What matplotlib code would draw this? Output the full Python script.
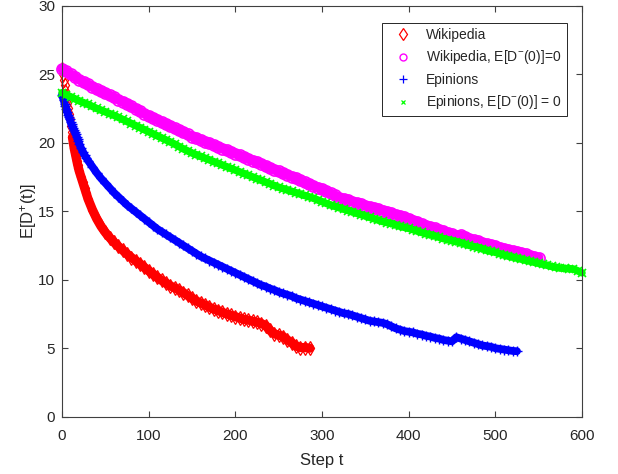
import matplotlib
matplotlib.use("Agg")
import matplotlib.pyplot as plt
from matplotlib.lines import Line2D

plt.rcParams['font.family'] = ['Liberation Sans', 'DejaVu Sans']
plt.rcParams['mathtext.fontset'] = 'custom'
plt.rcParams['mathtext.rm'] = 'Liberation Sans'
plt.rcParams['mathtext.it'] = 'Liberation Sans'

# ---- data ----
wiki_t = [0, 1, 2, 3, 4, 5, 6, 7, 8, 9, 10, 11, 12, 13, 14, 15, 16, 17, 18, 19, 20,
          22, 24, 26, 28, 30, 35, 40, 45, 50, 55, 60, 65, 70, 75, 80, 85, 90, 95, 100,
          105, 110, 115, 120, 125, 130, 135, 140, 145, 150, 155, 160, 165, 170, 175, 180,
          185, 190, 195, 200, 205, 210, 215, 220, 225, 230, 235, 240, 245, 250, 255, 260,
          265, 270, 275, 280, 286]
wiki_v = [25.4, 25.0, 24.6, 24.2, 23.8, 23.4, 22.9, 22.5, 22.1, 21.7, 21.2, 20.8, 20.4,
          20.0, 19.6, 19.3, 19.0, 18.7, 18.4, 18.15, 17.9,
          17.5, 17.1, 16.7, 16.3, 15.9, 15.12, 14.45, 13.9, 13.45, 13.07, 12.73, 12.43,
          12.15, 11.88, 11.62, 11.38, 11.15, 10.9, 10.65, 10.4, 10.17, 9.95, 9.75, 9.55,
          9.4, 9.25, 9.05, 8.85, 8.65, 8.45, 8.3, 8.15, 8.0, 7.85, 7.75, 7.62, 7.5, 7.4,
          7.3, 7.2, 7.1, 7.05, 6.97, 6.9, 6.8, 6.65, 6.3, 6.05, 5.95, 5.85, 5.6, 5.4,
          5.15, 5.05, 5.05, 5.0]

epin_t = [0, 1, 2, 3, 4, 5, 6, 7, 8, 9, 10, 11, 12, 13, 14, 15, 16, 17, 18, 19, 20,
          22, 24, 26, 28, 30] + list(range(35, 526, 5))
epin_v = [23.5, 23.3, 23.1, 22.85, 22.65, 22.45, 22.25, 22.05, 21.85, 21.7, 21.5, 21.35,
          21.2, 21.05, 20.9, 20.75, 20.6, 20.45, 20.3, 20.1, 19.9,
          19.6, 19.35, 19.1, 18.9, 18.7,
          18.25, 17.8, 17.4, 17.05, 16.7, 16.35, 16.05, 15.75, 15.45, 15.2, 14.95, 14.7,
          14.45, 14.2, 13.95, 13.7, 13.5, 13.3, 13.1, 12.9, 12.7, 12.5, 12.3, 12.1, 11.9,
          11.7, 11.55, 11.4, 11.25, 11.1, 10.95, 10.8, 10.65, 10.5, 10.35, 10.2, 10.05,
          9.9, 9.75, 9.6, 9.5, 9.35, 9.25, 9.1, 9.0, 8.9, 8.8, 8.65, 8.55, 8.45, 8.35,
          8.25, 8.15, 8.05, 7.95, 7.85, 7.75, 7.65, 7.55, 7.5, 7.4, 7.3, 7.2, 7.1, 7.0,
          6.95, 6.9, 6.85, 6.75, 6.6, 6.45, 6.35, 6.25, 6.2, 6.15, 6.05, 6.0, 5.9, 5.85,
          5.75, 5.7, 5.6, 5.55, 5.5, 5.8, 5.7, 5.6, 5.5, 5.4, 5.3, 5.2, 5.15, 5.1, 5.0,
          4.95, 4.9, 4.85, 4.8, 4.78]

wiki0_t = list(range(0, 551, 5))
wiki0_v = [25.4, 25.2, 25.0, 24.8, 24.6, 24.42, 24.25, 24.07, 23.9, 23.75, 23.6, 23.45,
           23.3, 23.15, 23.0, 22.82, 22.65, 22.48, 22.3, 22.12, 21.95, 21.8, 21.65, 21.5,
           21.35, 21.2, 21.05, 20.9, 20.75, 20.6, 20.45, 20.32, 20.2, 20.07, 19.95, 19.82,
           19.7, 19.57, 19.45, 19.32, 19.2, 19.07, 18.95, 18.82, 18.7, 18.57, 18.45, 18.3,
           18.15, 18.02, 17.9, 17.77, 17.65, 17.52, 17.4, 17.25, 17.1, 16.97, 16.85, 16.72,
           16.6, 16.45, 16.3, 16.15, 16.0, 15.9, 15.8, 15.7, 15.6, 15.5, 15.4, 15.32,
           15.25, 15.15, 15.05, 14.95, 14.85, 14.75, 14.65, 14.55, 14.45, 14.32, 14.2,
           14.07, 13.95, 13.85, 13.75, 13.65, 13.55, 13.42, 13.3, 13.2, 13.25, 13.15,
           12.95, 12.88, 12.8, 12.7, 12.6, 12.52, 12.45, 12.35, 12.25, 12.18, 12.1, 12.02,
           11.95, 11.85, 11.75, 11.65, 11.6]

epin0_t = list(range(0, 601, 5))
epin0_v = [23.65, 23.5, 23.35, 23.2, 23.05, 22.92, 22.8, 22.65, 22.5, 22.38, 22.25, 22.12,
           22.0, 21.85, 21.7, 21.55, 21.4, 21.25, 21.1, 20.95, 20.8, 20.65, 20.5, 20.35,
           20.2, 20.05, 19.9, 19.72, 19.55, 19.4, 19.25, 19.12, 19.0, 18.87, 18.75, 18.62,
           18.5, 18.37, 18.25, 18.12, 18.0, 17.87, 17.75, 17.62, 17.5, 17.37, 17.25, 17.12,
           17.0, 16.87, 16.75, 16.65, 16.55, 16.45, 16.35, 16.25, 16.15, 16.05, 15.95,
           15.82, 15.7, 15.57, 15.45, 15.35, 15.25, 15.15, 15.05, 14.95, 14.85, 14.75,
           14.65, 14.55, 14.45, 14.35, 14.25, 14.17, 14.1, 14.0, 13.9, 13.82, 13.75, 13.65,
           13.55, 13.45, 13.35, 13.27, 13.2, 13.1, 13.0, 12.92, 12.85, 12.77, 12.7, 12.6,
           12.5, 12.42, 12.35, 12.25, 12.15, 12.07, 12.0, 11.9, 11.8, 11.72, 11.65, 11.57,
           11.5, 11.42, 11.35, 11.27, 11.2, 11.12, 11.05, 10.97, 10.9, 10.85, 10.82, 10.8,
           10.78, 10.65, 10.5]

labels = ['Wikipedia', r'Wikipedia, E[D$^{-}$(0)]=0', 'Epinions',
          r'Epinions, E[D$^{-}$(0)] = 0']
x_ticks = [0, 100, 200, 300, 400, 500, 600]
y_ticks = [0, 5, 10, 15, 20, 25, 30]

RED, MAG, BLUE, GREEN = '#ff0000', '#ff00ff', '#0000ff', '#00ff00'

# ---- plot ----
fig = plt.figure(figsize=(6.18, 4.74), dpi=100)
ax = fig.add_axes([62 / 618, 57.3 / 474, 520 / 618, 411 / 474])

# Wikipedia (open diamonds; dense band after the steep start)
ax.plot(wiki_t[12:], wiki_v[12:], color=RED, lw=6.6, solid_capstyle='round',
        solid_joinstyle='round', clip_on=False, zorder=2)
ax.plot(wiki_t, wiki_v, linestyle='none', marker='d', markersize=7.5,
        markerfacecolor='none', markeredgecolor=RED, markeredgewidth=0.9,
        clip_on=False, zorder=2)
# Wikipedia, E[D-(0)]=0 (open circles)
ax.plot(wiki0_t, wiki0_v, color=MAG, lw=7.0, solid_capstyle='round',
        clip_on=False, zorder=3)
ax.plot(wiki0_t, wiki0_v, linestyle='none', marker='o', markersize=8,
        markerfacecolor='none', markeredgecolor=MAG, markeredgewidth=1.2,
        clip_on=False, zorder=3)
# Epinions (+)
ax.plot(epin_t, epin_v, color=BLUE, lw=5.6, solid_capstyle='round',
        clip_on=False, zorder=4)
ax.plot(epin_t, epin_v, linestyle='none', marker='+', markersize=7.5,
        markeredgecolor=BLUE, markeredgewidth=1.0, clip_on=False, zorder=4)
# Epinions, E[D-(0)] = 0 (x)
ax.plot(epin0_t, epin0_v, color=GREEN, lw=5.4, solid_capstyle='round',
        clip_on=False, zorder=5)
ax.plot(epin0_t, epin0_v, linestyle='none', marker='x', markersize=6,
        markeredgecolor=GREEN, markeredgewidth=1.2, clip_on=False, zorder=5)

ax.set_xlim(0, 600)
ax.set_ylim(0, 30)
ax.set_xticks(x_ticks)
ax.set_yticks(y_ticks)

axis_col = '#404040'
text_col = '#262626'
for s in ax.spines.values():
    s.set_color(axis_col)
    s.set_linewidth(0.8)
    s.set_zorder(6)
ax.tick_params(direction='in', length=4.5, width=0.8, colors=axis_col,
               labelcolor=text_col, labelsize=11, top=True, right=True)
ax.tick_params(axis='x', pad=9)
ax.tick_params(axis='y', pad=5)
ax.set_xlabel('Step t', fontsize=12, color=text_col, labelpad=7)
ax.set_ylabel(r'E[D$^{+}$(t)]', fontsize=12, color=text_col, labelpad=-0.5)

# legend handles (marker only, small like the reference)
handles = [
    Line2D([], [], linestyle='none', marker='d', markersize=6.5, markerfacecolor='none',
           markeredgecolor=RED, markeredgewidth=0.9),
    Line2D([], [], linestyle='none', marker='o', markersize=5, markerfacecolor='none',
           markeredgecolor=MAG, markeredgewidth=1.0),
    Line2D([], [], linestyle='none', marker='+', markersize=6, markeredgecolor=BLUE,
           markeredgewidth=0.9),
    Line2D([], [], linestyle='none', marker='x', markersize=3.5, markeredgecolor=GREEN,
           markeredgewidth=0.9),
]
leg = ax.legend(handles, labels, loc='upper right',
                bbox_to_anchor=((567 - 62) / 520, (416.7 - 23) / 411),
                borderaxespad=0, fancybox=False, fontsize=10, labelspacing=0.47,
                handlelength=2.3, handletextpad=0.5, borderpad=0.35,
                framealpha=1)
leg.get_frame().set_edgecolor('#262626')
leg.get_frame().set_linewidth(0.7)
leg.set_zorder(10)
for t in leg.get_texts():
    t.set_color(text_col)

fig.savefig('out.png', dpi=100, facecolor='white')
